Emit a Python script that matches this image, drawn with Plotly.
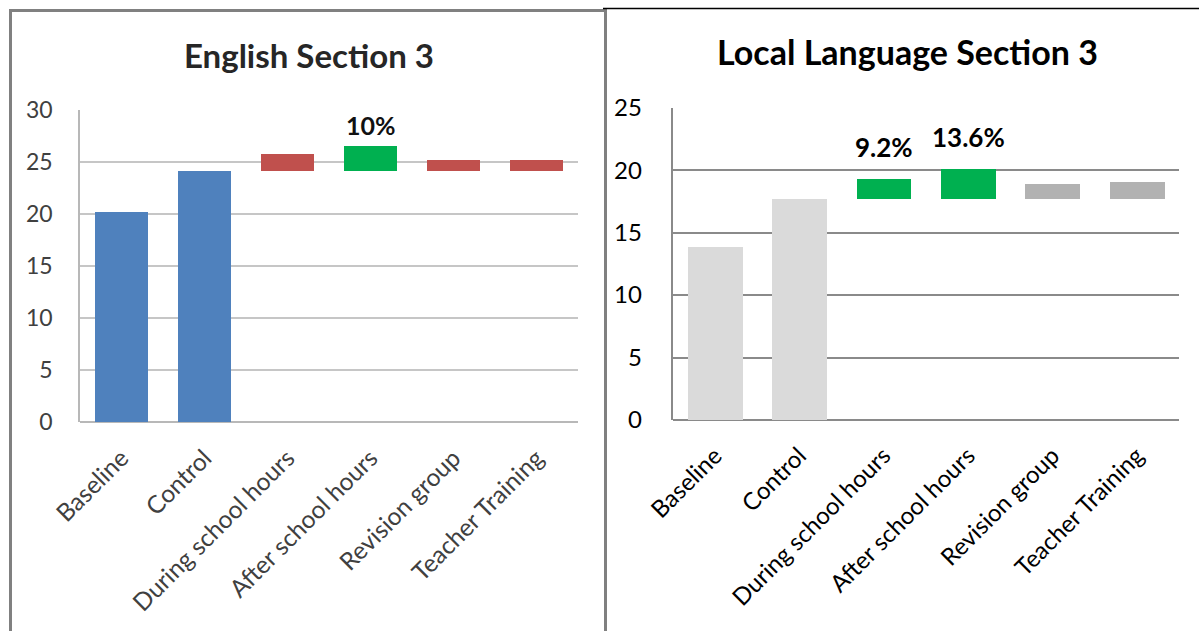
import plotly.graph_objects as go

W, H = 1199, 631

categories = ["Baseline", "Control", "During school hours",
              "After school hours", "Revision group", "Teacher Training"]

# Mean section 3 scores per group
eng_scores = [20.2, 24.1, 25.8, 26.5, 25.2, 25.2]
ll_scores = [13.85, 17.7, 19.33, 20.1, 18.9, 19.05]

# Interventions with a significant gain over the control group
eng_significant = [False, False, False, True, False, False]
ll_significant = [False, False, True, True, False, False]

eng_ticks = [0, 5, 10, 15, 20, 25, 30]
ll_ticks = [0, 5, 10, 15, 20, 25]


def px_x(v):
    return v / W


def px_y(v):
    return 1 - v / H


def bar_parts(scores, significant, ref_color, up_color, flat_color):
    control = scores[1]
    bases, heights, colors = [], [], []
    for i, s in enumerate(scores):
        if i < 2:
            bases.append(0)
            heights.append(s)
            colors.append(ref_color)
        else:
            bases.append(control)
            heights.append(s - control)
            colors.append(up_color if significant[i] else flat_color)
    return bases, heights, colors


def gain_labels(scores, significant):
    control = scores[1]
    out = []
    for i, s in enumerate(scores):
        if significant[i]:
            pct = round((s / control - 1) * 100, 1)
            out.append((i, s, f"{pct:g}%"))
    return out


fig = go.Figure()

# English panel
b, h, c = bar_parts(eng_scores, eng_significant, "#4f81bd", "#00b050", "#c0504d")
fig.add_trace(go.Bar(x=categories, y=h, base=b, marker=dict(color=c, line=dict(width=0)),
                     width=0.64, xaxis="x", yaxis="y", showlegend=False))

# Local language panel
b, h, c = bar_parts(ll_scores, ll_significant, "#dadada", "#00b050", "#b2b2b2")
fig.add_trace(go.Bar(x=categories, y=h, base=b, marker=dict(color=c, line=dict(width=0)),
                     width=0.65, xaxis="x2", yaxis="y2", showlegend=False))

annotations = []
for i, s, txt in gain_labels(eng_scores, eng_significant):
    annotations.append(dict(x=categories[i], y=s, xref="x", yref="y", text=f"<b>{txt}</b>",
                            showarrow=False, yanchor="bottom", yshift=4,
                            font=dict(family="Lato", size=25, color="#111111")))
for i, s, txt in gain_labels(ll_scores, ll_significant):
    annotations.append(dict(x=categories[i], y=s, xref="x2", yref="y2", text=f"<b>{txt}</b>",
                            showarrow=False, yanchor="bottom", yshift=14,
                            font=dict(family="Lato", size=26, color="#000000")))

annotations.append(dict(x=px_x(309), y=px_y(55), xref="paper", yref="paper",
                        text="<b>English Section 3</b>", showarrow=False,
                        xanchor="center", yanchor="middle",
                        font=dict(family="Lato", size=33, color="#262626")))
annotations.append(dict(x=px_x(907), y=px_y(52), xref="paper", yref="paper",
                        text="<b>Local Language Section 3</b>", showarrow=False,
                        xanchor="center", yanchor="middle",
                        font=dict(family="Lato", size=34, color="#000000")))

shapes = [
    # frame around the English panel
    dict(type="rect", xref="paper", yref="paper",
         x0=px_x(10.5), x1=px_x(605.5), y0=px_y(640), y1=px_y(10.5),
         line=dict(color="#808080", width=3), layer="above"),
    # rule along the top of the local language panel
    dict(type="line", xref="paper", yref="paper",
         x0=px_x(603), x1=1, y0=px_y(8.5), y1=px_y(8.5),
         line=dict(color="#000000", width=1.5)),
]

fig.update_layout(
    width=W, height=H,
    autosize=False,
    margin=dict(l=0, r=0, t=0, b=0, pad=0, autoexpand=False),
    paper_bgcolor="white", plot_bgcolor="white",
    bargap=0,
    annotations=annotations,
    shapes=shapes,
    xaxis=dict(domain=[px_x(80), px_x(578)], anchor="y", type="category",
               range=[-0.5, 5.5], tickangle=-45, showgrid=False, automargin=False,
               showline=False, ticks="", ticklabelstandoff=16,
               tickfont=dict(family="Lato", size=24.5, color="#404040")),
    yaxis=dict(domain=[1 - 422 / H, 1 - 110 / H], anchor="x", range=[0, 30],
               tickvals=eng_ticks, showgrid=True, gridcolor="#c6c6c6", gridwidth=1.5,
               showline=True, linecolor="#b8b8b8", linewidth=1.5, automargin=False,
               zeroline=True, zerolinecolor="#b8b8b8", zerolinewidth=1.5,
               ticks="", ticklabelstandoff=21,
               tickfont=dict(family="Lato", size=23, color="#404040")),
    xaxis2=dict(domain=[px_x(672.7), px_x(1179)], anchor="y2", type="category",
                range=[-0.5, 5.5], tickangle=-45, showgrid=False, automargin=False,
                showline=False, ticks="", ticklabelstandoff=16,
                tickfont=dict(family="Lato", size=24, color="#000000")),
    yaxis2=dict(domain=[1 - 420 / H, 1 - 107.7 / H], anchor="x2", range=[0, 25],
                tickvals=ll_ticks, showgrid=True, gridcolor="#8a8a8a", gridwidth=2,
                showline=True, linecolor="#8a8a8a", linewidth=2, automargin=False,
                zeroline=True, zerolinecolor="#8a8a8a", zerolinewidth=2,
                ticks="", ticklabelstandoff=24,
                tickfont=dict(family="Lato", size=24, color="#000000")),
)

fig.write_html("out.html")
